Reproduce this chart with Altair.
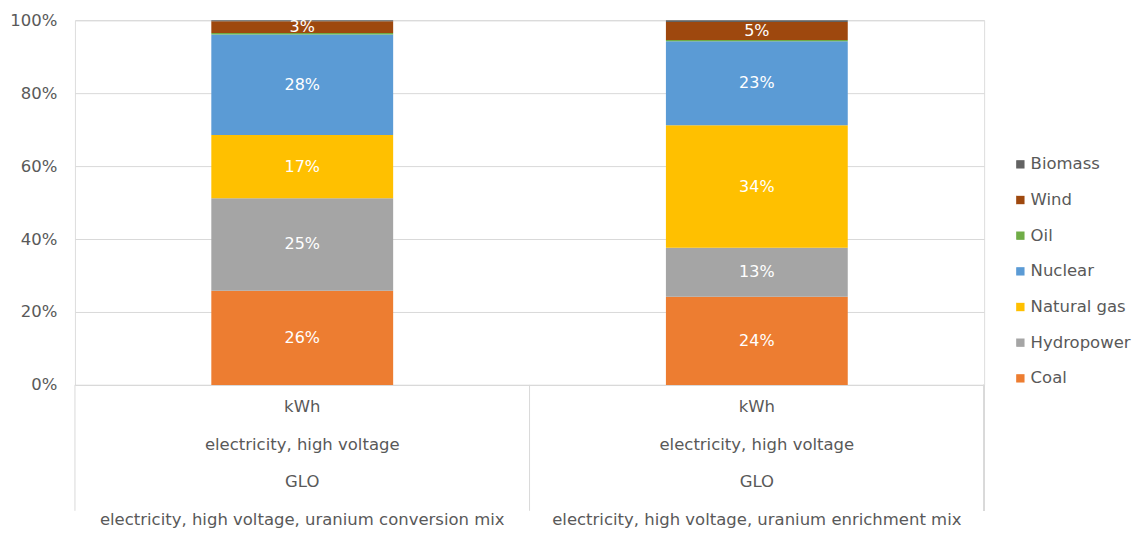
import altair as alt
import pandas as pd

units = ["kWh", "kWh"]
products = ["electricity, high voltage", "electricity, high voltage"]
locations = ["GLO", "GLO"]
names = ["electricity, high voltage, uranium conversion mix",
         "electricity, high voltage, uranium enrichment mix"]

sources = ["Coal", "Hydropower", "Natural gas", "Nuclear", "Oil", "Wind", "Biomass"]
conversion = [0.258, 0.254, 0.173, 0.276, 0.004, 0.032, 0.003]
enrichment = [0.242, 0.134, 0.336, 0.230, 0.004, 0.049, 0.005]
shares = [conversion, enrichment]

legend_order = ["Biomass", "Wind", "Oil", "Nuclear", "Natural gas", "Hydropower", "Coal"]
legend_colors = ["#636363", "#9E480E", "#70AD47", "#5B9BD5", "#FFC000", "#A5A5A5", "#ED7D31"]

rows = []
for i in range(len(names)):
    cat = "|".join([units[i], products[i], locations[i], names[i]])
    for j, s in enumerate(sources):
        rows.append(dict(cat=cat, source=s, idx=j, val=shares[i][j]))
df = pd.DataFrame(rows)

FONT = "DejaVu Sans"
GRAY = "#595959"
LINE = "#d9d9d9"
W, H = 910, 365
SEP = 126

base = alt.Chart(df).transform_stack(
    stack="val", groupby=["cat"], as_=["y0", "y1"],
    sort=[alt.SortField("idx", order="ascending")]
).transform_calculate(mid="(datum.y0 + datum.y1) / 2")

x_enc = alt.X(
    "cat:N", sort=None, title=None,
    scale=alt.Scale(paddingInner=0, paddingOuter=0),
    axis=alt.Axis(
        labelExpr="split(datum.label, '|')", labelLimit=1000, labelAngle=0,
        labelFontSize=16.5, labelColor=GRAY, labelFont=FONT, labelLineHeight=37.5,
        labelPadding=14, ticks=False, domainColor=LINE, grid=False,
    ),
)

bars = base.mark_bar(width=alt.RelativeBandSize(0.4)).encode(
    x=x_enc,
    y=alt.Y("y0:Q", title=None,
            scale=alt.Scale(domain=[0, 1], nice=False),
            axis=alt.Axis(format=".0%", values=[0, 0.2, 0.4, 0.6, 0.8, 1.0],
                          labelFontSize=16.5, labelColor=GRAY, labelFont=FONT,
                          ticks=False, domain=False, gridColor=LINE,
                          labelPadding=18)),
    y2="y1:Q",
    color=alt.Color("source:N", title=None,
                    scale=alt.Scale(domain=legend_order, range=legend_colors),
                    legend=alt.Legend(orient="none", legendX=938, legendY=136,
                                      symbolType="square", symbolSize=70,
                                      symbolStrokeWidth=0,
                                      labelFontSize=16.5, labelColor=GRAY,
                                      labelFont=FONT, rowPadding=18.7,
                                      labelOffset=2)),
)

labels = base.transform_filter("datum.val >= 0.02").mark_text(
    color="white", fontSize=16, font=FONT
).encode(
    x=alt.X("cat:N", sort=None),
    y=alt.Y("mid:Q"),
    text=alt.Text("val:Q", format=".0%"),
)

separators = alt.Chart(df).transform_aggregate(
    n="count()", groupby=["cat"]
).mark_rule(color=LINE).encode(
    x=alt.X("cat:N", sort=None, bandPosition=0),
    y=alt.value(H), y2=alt.value(H + SEP),
)

end_rule = alt.Chart(df).mark_rule(color=LINE).encode(
    x=alt.value(W), y=alt.value(H), y2=alt.value(H + SEP)
)

chart = alt.layer(bars, labels, separators, end_rule).properties(
    width=W, height=H,
    autosize=alt.AutoSizeParams(type="none"),
    padding={"left": 67, "top": 12, "right": 150, "bottom": 143},
).configure_view(stroke=None).configure(font=FONT)

chart.save("out.html", embed_options={"renderer": "svg", "actions": False})
